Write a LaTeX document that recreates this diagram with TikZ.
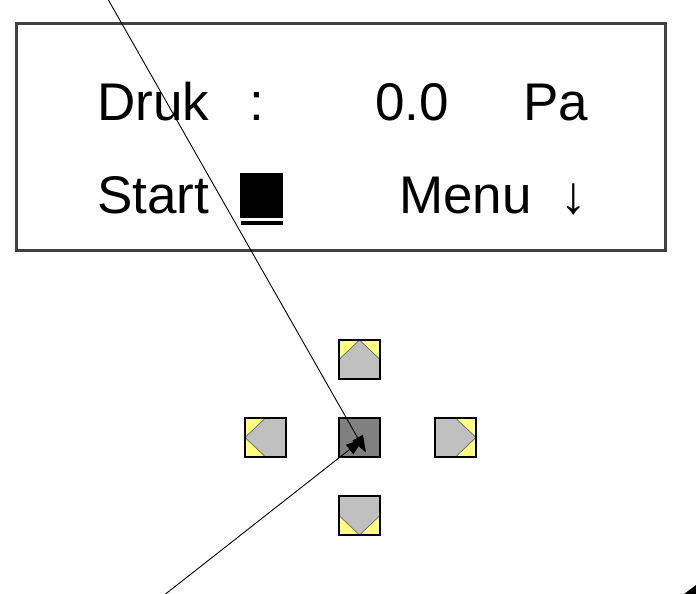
\documentclass[tikz,border=0pt]{standalone}
\usepackage{fontspec}
\setmainfont{Liberation Sans}
\usetikzlibrary{arrows.meta}
\definecolor{btngray}{HTML}{C0C0C0}
\definecolor{btndark}{HTML}{808080}
\definecolor{btnyellow}{HTML}{FFFF80}
\definecolor{framegray}{HTML}{404040}
\newcommand\ppcoords{\path (path picture bounding box.north west) coordinate (pNW)
  (path picture bounding box.north) coordinate (pN)
  (path picture bounding box.north east) coordinate (pNE)
  (path picture bounding box.east) coordinate (pE)
  (path picture bounding box.south east) coordinate (pSE)
  (path picture bounding box.south) coordinate (pS)
  (path picture bounding box.south west) coordinate (pSW)
  (path picture bounding box.west) coordinate (pW);}
\tikzset{
  btn/.style={draw=black, line width=1.6pt, fill=btngray, minimum width=41pt, minimum height=39pt, inner sep=0pt},
  ytri/.style={fill=btnyellow, draw=black!60, line width=0.7pt},
  btnup/.style={btn, path picture={\ppcoords
     \filldraw[ytri] (pNW)--(pN)--(pW)--cycle (pNE)--(pN)--(pE)--cycle;}},
  btndown/.style={btn, path picture={\ppcoords
     \filldraw[ytri] (pSW)--(pS)--(pW)--cycle (pSE)--(pS)--(pE)--cycle;}},
  btnleft/.style={btn, path picture={\ppcoords
     \filldraw[ytri] (pNW)--(pN)--(pW)--cycle (pSW)--(pS)--(pW)--cycle;}},
  btnright/.style={btn, path picture={\ppcoords
     \filldraw[ytri] (pNE)--(pN)--(pE)--cycle (pSE)--(pS)--(pE)--cycle;}},
  btnok/.style={btn, fill=btndark},
  lcdtext/.style={font=\fontsize{53}{60}\selectfont, inner sep=0pt, anchor=base west},
  ptr/.style={draw=black, line width=0.9pt, -{Triangle[length=17pt,width=12pt]}},
  lcdframe/.style={draw=framegray, line width=3pt, inner sep=0pt, minimum width=649pt, minimum height=226pt},
}
\begin{document}
\begin{tikzpicture}[x=1pt,y=-1pt]
\useasboundingbox (0,0) rectangle (696,594);
% display
\node[lcdframe] (lcd) at (340.5,137) {};
\node[lcdtext] (druk) at (97,120) {Druk};
\node[lcdtext] (colon) at (249,120) {:};
\node[lcdtext] (value) at (375,120) {0.0};
\node[lcdtext] (unit) at (523,120) {Pa};
\node[lcdtext] (start) at (97,213) {Start};
\node[fill=black, inner sep=0pt, minimum width=43pt, minimum height=45pt] (cursor) at (261.5,195.5) {};
\node[fill=black, inner sep=0pt, minimum width=42pt, minimum height=4pt] (cursorbar) at (261.5,223) {};
\node[lcdtext] (menu) at (399,213) {Menu\hspace{29pt}↓};
% keypad
\node[btnup] (up) at (359.5,359.5) {};
\node[btnleft] (left) at (265.5,437.5) {};
\node[btnok] (ok) at (359.5,437.5) {};
\node[btnright] (right) at (455.5,437.5) {};
\node[btndown] (down) at (359.5,515.5) {};
% pointers
\coordinate (s1) at (105,-6);
\coordinate (t1) at (366,452.5);
\coordinate (s2) at (163,596);
\coordinate (t2) at (363,439);
\draw[ptr] (s1) -- (t1);
\draw[ptr] (s2) -- (t2);
% corner mark
\fill (684,594) -- (696,585) -- (696,594) -- cycle;
\end{tikzpicture}
\end{document}
